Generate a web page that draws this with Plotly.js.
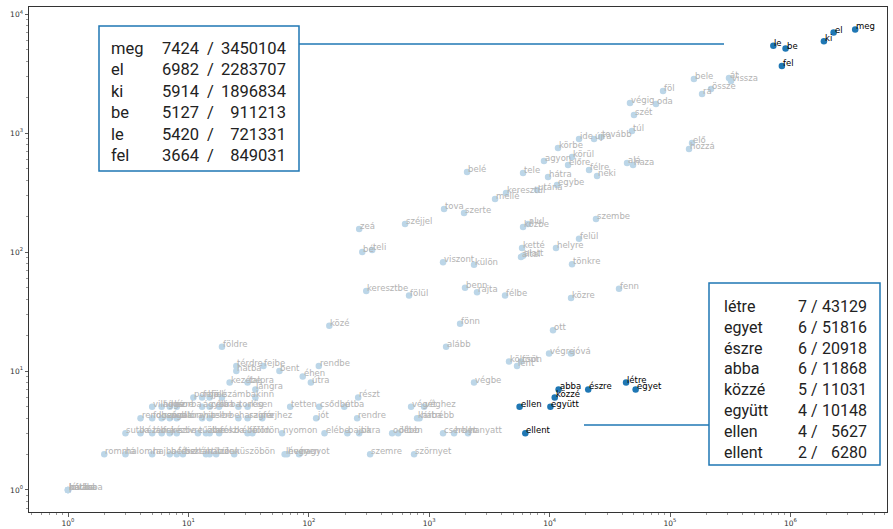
<!DOCTYPE html>
<html><head><meta charset="utf-8">
<script src="https://cdn.plot.ly/plotly-3.0.1.min.js"></script>
<style>html,body{margin:0;padding:0;background:#fff}</style>
</head><body><div id="chart" style="width:893px;height:529px"></div>
<script>
// highlighted prefixes (x = second count, y = first count)
const topWords = ['meg','el','ki','be','le','fel'];
const topA = [3450104,2283707,1896834,911213,721331,849031];
const topB = [7424,6982,5914,5127,5420,3664];
const lowWords = ['létre','egyet','észre','abba','közzé','együtt','ellen','ellent'];
const lowA = [43129,51816,20918,11868,11031,10148,5627,6280];
const lowB = [7,6,6,6,5,4,4,2];

// other words
const grayWords = ['bele','át','vissza','rá','össze','föl','végig','oda','szét','túl','elő','hozzá',
 'ide','újra','tovább','körbe','körül','agyon','előre','félre','neki','alá','haza','belé','tele','hátra',
 'egybe','utána','keresztül','mellé','tova','szerte','széjjel','zeá','alul','közbe','szembe','felül',
 'bé','teli','ketté','helyre','által','alatt','viszont','külön','tönkre','keresztbe','fölül','benn',
 'rajta','félbe','közre','fenn','fönn','közé','ott','alább','végre','jóvá','kölcsön','lent','fönt',
 'végbe','részt','útba','csődbe','végét','véghez','rendre','kárba','hátrébb','elébe','bajba','sikra',
 'odébb','ölben','cserben','helyt','hanyatt','szemre','szörnyet',
 'földre','térdre','hátba','fejbe','bent','rendbe','éhen','útra','kezébe','talpra','lángra',
 'porba','fejjel','fölé','számba','kinn',
 'világgá','hírbe','kézre','sorba','ágyba','célba','sírba','torkig','résen','tetten',
 'rendben','fogságba','szóra','padlóra','zátonyra','hitelbe','cserbe','haragra','színre','férjhez','jót',
 'sutba','kézen','lábra','fejre','kézbe','szívre','tűzbe','ölbe','sarokba','fészkébe','fülön','földön','nyomon',
 'rommá','halomra','hajba','bérbe','fészkén','tisztán','hátul','tűzön','vízen','küszöbön','lévén','hegyen','nagyot',
 'kútba','pácba','hátára','lóvábba'];
const grayA = [158000,309000,321000,184500,219000,87500,46500,76500,50200,48300,152300,143800,
 17550,23400,26700,11740,15350,8980,14220,21250,24770,43950,49300,2061,6013,9700,
 11520,7855,4345,3522,1327,1946,629,261,6620,6013,24280,17550,
 277,335,5900,11300,5785,6013,1302,2355,15350,299,679,1983,
 2495,4264,15060,37700,1803,147,10670,1380,9890,15060,4600,5360,5785,
 2355,256,196,121,706,906,251,792,830,134,208,261,
 491,551,1302,1607,2100,322,748,
 18,24,24,41,56,120,88,103,21,30,35,
 10,12,14,18,35,
 4,5,6,7,12,14,17,25,30,69,
 3,4,5,6,7,12,14,25,30,40,114,
 2,3,4,5,6,7,11,13,14,17,30,33,59,
 1,2,4,6,7,8,13,14,16,23,62,65,82,
 0,0,0,0];
const grayB = [2842,2897,2734,2126,2342,2253,1785,1752,1416,1039,823,733,
 890,890,924,747,628,581,537,488,434,559,537,469,460,426,
 365,331,312,278,229,212,171,155,171,161,188,128,
 99,103,107,107,90,92,81,77,78,46,42,49,
 45,42,40,48,24,23,21,15,13,13,11,10,11,
 7,5,4,4,4,4,3,3,3,2,2,2,
 2,2,2,2,2,1,1,
 15,10,9,10,9,10,8,7,7,7,6,
 5,5,5,5,5,
 4,4,4,4,4,4,4,4,4,4,
 3,3,3,3,3,3,3,3,3,3,3,
 2,2,2,2,2,2,2,2,2,2,2,2,2,
 1,1,1,1,1,1,1,1,1,1,1,1,1,
 0,0,0,0];

// axis tick labels
const xTickVals = [1,10,100,1000,10000,100000,1000000];
const xTickText = ['10<sup>0</sup>','10<sup>1</sup>','10<sup>2</sup>','10<sup>3</sup>','10<sup>4</sup>','10<sup>5</sup>','10<sup>6</sup>'];
const yTickVals = [1,10,100,1000,10000];
const yTickText = ['10<sup>0</sup>','10<sup>1</sup>','10<sup>2</sup>','10<sup>3</sup>','10<sup>4</sup>'];

const topLines = topWords.map((w,i)=>[w, topB[i], topA[i]]);
const lowLines = lowWords.map((w,i)=>[w, lowB[i], lowA[i]]);

const hlWords = topWords.concat(lowWords);
const hlA = topA.concat(lowA), hlB = topB.concat(lowB);

const L = v => Math.log10(v + 1);

const traces = [
 {type:'scatter', mode:'markers', x: grayA.map(v=>v+1), y: grayB.map(v=>v+1),
  marker:{size:6.5, color:'rgb(188,214,232)'}, hoverinfo:'skip', showlegend:false},
 {type:'scatter', mode:'markers', x: hlA.map(v=>v+1), y: hlB.map(v=>v+1),
  marker:{size:6.5, color:'#1f77b4'}, hoverinfo:'skip', showlegend:false}
];

const ann = [];
grayWords.forEach((w,i)=>ann.push({x:L(grayA[i]), y:L(grayB[i]), xref:'x', yref:'y', text:w,
  showarrow:false, xanchor:'left', yanchor:'bottom', xshift:-1, yshift:-4,
  font:{family:'DejaVu Sans', size:8.5, color:'#b3b3b3'}}));
hlWords.forEach((w,i)=>ann.push({x:L(hlA[i]), y:L(hlB[i]), xref:'x', yref:'y', text:w,
  showarrow:false, xanchor:'left', yanchor:'bottom', xshift:-1, yshift:-4,
  font:{family:'DejaVu Sans', size:8.5, color:'#000'}}));

// plot area in pixels: x 29..887, y 7..512
const px = p => (p - 29) / 858;
const py = p => (512 - p) / 505;
const boxFont = s => ({family:'Roboto', size:s, color:'#222'});
function col(lines, idx, xp, anchor, yc, size){
  ann.push({xref:'paper', yref:'paper', x:px(xp), y:py(yc), xanchor:anchor, yanchor:'middle',
    align: anchor==='right'?'right':(anchor==='center'?'center':'left'), showarrow:false,
    text: lines.map(r=> idx<0 ? '/' : String(r[idx])).join('<br>'), font:boxFont(size)});
}
col(topLines, 0, 109, 'left', 101.5, 16.5);
col(topLines, 1, 201, 'right', 101.5, 16.5);
col(topLines, -1, 210, 'center', 101.5, 16.5);
col(topLines, 2, 288, 'right', 101.5, 16.5);
col(lowLines, 0, 722, 'left', 379.5, 16);
col(lowLines, 1, 809, 'right', 379.5, 16);
col(lowLines, -1, 814, 'center', 379.5, 16);
col(lowLines, 2, 869, 'right', 379.5, 16);

const shapes = [
 {type:'line', xref:'paper', yref:'paper', x0:px(299), x1:px(724), y0:py(44), y1:py(44), line:{color:'#1f77b4', width:1.5}},
 {type:'rect', xref:'paper', yref:'paper', x0:px(99), x1:px(299), y0:py(26), y1:py(171), line:{color:'#1f77b4', width:1.5}, fillcolor:'#fff', layer:'above'},
 {type:'line', xref:'paper', yref:'paper', x0:px(584), x1:px(709), y0:py(425), y1:py(425), line:{color:'#1f77b4', width:1.5}},
 {type:'rect', xref:'paper', yref:'paper', x0:px(709), x1:px(880), y0:py(283), y1:py(465), line:{color:'#1f77b4', width:1.5}, fillcolor:'#fff', layer:'above'}
];

function minorVals(maxExp){ const v=[]; for(let e=-1;e<=maxExp;e++) for(let d=2;d<=9;d++) v.push(d*Math.pow(10,e)); return v; }

const axisCommon = {type:'log', tickmode:'array', showgrid:false, zeroline:false,
  showline:true, linecolor:'#333', linewidth:1, mirror:true, ticks:'outside', ticklen:3.5,
  tickcolor:'#333', tickwidth:0.8, tickfont:{family:'DejaVu Sans', size:7.5, color:'#333'}};

const layout = {
  width:893, height:529, margin:{l:29, r:6, t:7, b:17},
  paper_bgcolor:'#fff', plot_bgcolor:'#fff', showlegend:false,
  xaxis: Object.assign({}, axisCommon, {range:[-0.324, 6.802], tickvals:xTickVals, ticktext:xTickText,
    minor:{tickmode:'array', tickvals:minorVals(6), ticks:'outside', ticklen:2, tickcolor:'#555', tickwidth:0.6}}),
  yaxis: Object.assign({}, axisCommon, {range:[-0.185, 4.059], tickvals:yTickVals, ticktext:yTickText,
    minor:{tickmode:'array', tickvals:minorVals(4), ticks:'outside', ticklen:2, tickcolor:'#555', tickwidth:0.6}}),
  annotations: ann, shapes: shapes
};
Plotly.newPlot('chart', traces, layout, {staticPlot:true, displayModeBar:false});
</script></body></html>
